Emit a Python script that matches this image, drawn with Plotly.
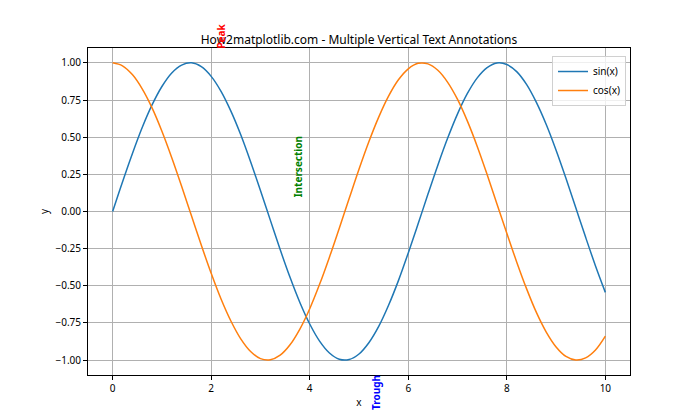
import plotly.graph_objects as go

x_vals = [0.0, 0.2, 0.4, 0.6, 0.8, 1.0, 1.2, 1.4, 1.6, 1.8, 2.0, 2.2, 2.4, 2.6, 2.8,
          3.0, 3.2, 3.4, 3.6, 3.8, 4.0, 4.2, 4.4, 4.6, 4.8, 5.0, 5.2, 5.4, 5.6, 5.8,
          6.0, 6.2, 6.4, 6.6, 6.8, 7.0, 7.2, 7.4, 7.6, 7.8, 8.0, 8.2, 8.4, 8.6, 8.8,
          9.0, 9.2, 9.4, 9.6, 9.8, 10.0]
sin_vals = [0.000, 0.199, 0.389, 0.565, 0.717, 0.841, 0.932, 0.985, 1.000, 0.974,
            0.909, 0.808, 0.675, 0.516, 0.335, 0.141, -0.058, -0.256, -0.443, -0.612,
            -0.757, -0.872, -0.952, -0.994, -0.996, -0.959, -0.883, -0.773, -0.631, -0.465,
            -0.279, -0.083, 0.117, 0.312, 0.494, 0.657, 0.794, 0.899, 0.968, 0.999,
            0.989, 0.941, 0.855, 0.734, 0.585, 0.412, 0.223, 0.025, -0.174, -0.366, -0.544]
cos_vals = [1.000, 0.980, 0.921, 0.825, 0.697, 0.540, 0.362, 0.170, -0.029, -0.227,
            -0.416, -0.589, -0.737, -0.857, -0.942, -0.990, -0.998, -0.967, -0.897, -0.791,
            -0.654, -0.490, -0.307, -0.112, 0.087, 0.284, 0.469, 0.635, 0.776, 0.886,
            0.960, 0.997, 0.993, 0.950, 0.869, 0.754, 0.608, 0.438, 0.249, 0.051,
            -0.146, -0.339, -0.519, -0.679, -0.811, -0.911, -0.975, -0.999, -0.985, -0.932, -0.839]
series_names = ["sin(x)", "cos(x)"]
x_ticks = [0, 2, 4, 6, 8, 10]
y_ticks = [-1.0, -0.75, -0.5, -0.25, 0.0, 0.25, 0.5, 0.75, 1.0]
note_texts = ["Peak", "Intersection", "Trough"]
note_x = [2.2, 3.77, 5.35]
note_y = [1.177, 0.30, -1.22]
note_colors = ["red", "green", "blue"]

FONT = "Noto Sans"
Y_MIN, Y_MAX = -1.1, 1.1

fig = go.Figure()
fig.add_trace(go.Scatter(x=x_vals, y=sin_vals, mode="lines", name=series_names[0],
                         line=dict(color="#1f77b4", width=1.5, shape="spline")))
fig.add_trace(go.Scatter(x=x_vals, y=cos_vals, mode="lines", name=series_names[1],
                         line=dict(color="#ff7f0e", width=1.5, shape="spline")))

for t, xx, yy, c in zip(note_texts, note_x, note_y, note_colors):
    # convert y data value to paper fraction so text outside the axes stays visible
    yp = (yy - Y_MIN) / (Y_MAX - Y_MIN)
    fig.add_annotation(x=xx, y=yp, xref="x", yref="paper", text=f"<b>{t}</b>",
                       textangle=-90, showarrow=False, xanchor="center", yanchor="middle",
                       font=dict(family=FONT, size=10, color=c))

axis_common = dict(showline=True, mirror=True, linecolor="black", linewidth=1,
                   showgrid=True, gridcolor="#b0b0b0", gridwidth=0.8,
                   ticks="outside", ticklen=4, tickcolor="black", tickwidth=1,
                   zeroline=False, automargin=False,
                   tickfont=dict(family=FONT, size=10, color="black"))

fig.update_xaxes(range=[-0.5, 10.5], tickvals=x_ticks,
                 title=dict(text="x", font=dict(family=FONT, size=10, color="black"), standoff=4),
                 **axis_common)
fig.update_yaxes(range=[Y_MIN, Y_MAX], tickvals=y_ticks, tickformat=".2f",
                 title=dict(text="y", font=dict(family=FONT, size=10, color="black"), standoff=4),
                 **axis_common)

fig.update_layout(
    width=692, height=412,
    margin=dict(l=80, r=70, t=40, b=45),
    paper_bgcolor="white", plot_bgcolor="white",
    title=dict(text="How2matplotlib.com - Multiple Vertical Text Annotations",
               x=0.5, xref="paper", xanchor="center",
               y=1 - 32 / 412, yref="container", yanchor="middle",
               font=dict(family=FONT, size=12, color="black")),
    legend=dict(x=0.9926, y=0.9755, xanchor="right", yanchor="top",
                bgcolor="rgba(255,255,255,0.8)", bordercolor="#d0d0d0", borderwidth=1,
                font=dict(family=FONT, size=10, color="black"), itemwidth=30,
                tracegroupgap=0),
    font=dict(family=FONT),
)

fig.write_html("out.html")
